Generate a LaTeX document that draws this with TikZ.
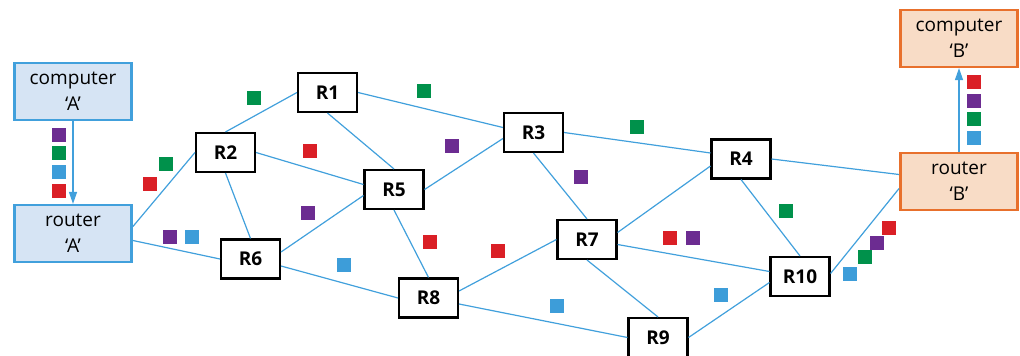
\documentclass[tikz,border=0pt]{standalone}
\usepackage{fontspec}
\setmainfont{Open Sans}
\usetikzlibrary{arrows.meta,calc}
\definecolor{lnblue}{RGB}{65,160,220}
\definecolor{hostAfill}{RGB}{214,228,244}
\definecolor{hostBfill}{RGB}{248,220,198}
\definecolor{hostBdraw}{RGB}{232,112,44}
\definecolor{pgreen}{RGB}{0,145,75}
\definecolor{pred}{RGB}{218,31,38}
\definecolor{ppurple}{RGB}{108,44,145}
\definecolor{pblue}{RGB}{61,157,217}
\newcommand\pkt[4]{\node[pkt,fill=#1] (#4) at (#2,#3) {};}
\begin{document}
\begin{tikzpicture}[x=0.75pt,y=-0.75pt,
  rt/.style={draw=black,line width=1.8pt,fill=white,minimum width=44pt,minimum height=29pt,inner sep=0pt,
    font=\bfseries\fontsize{14.25}{17}\selectfont},
  hostA/.style={draw=lnblue,fill=hostAfill,line width=1.9pt,minimum width=88pt,minimum height=42.5pt,inner sep=0pt,align=center,
    font=\fontsize{14.25}{19.5}\selectfont},
  hostB/.style={hostA,draw=hostBdraw,fill=hostBfill},
  link/.style={draw=lnblue,line width=0.9pt},
  flow/.style={draw=lnblue,line width=1.1pt,-{Triangle[length=9pt,width=6pt]}},
  pkt/.style={draw=none,minimum size=10.5pt,inner sep=0pt}]
\useasboundingbox (0,0) rectangle (1020,356);
% hosts
\node[hostA] (compA) at (73,91.5) {computer\\‘A’};
\node[hostA] (routA) at (73,233.5) {router\\‘A’};
\node[hostB] (compB) at (959,38.5) {computer\\‘B’};
\node[hostB] (routB) at (959,181.5) {router\\‘B’};
% routers
\node[rt] (R1) at (327.5,92.5) {R1};
\node[rt] (R2) at (225.5,152.5) {R2};
\node[rt] (R3) at (533.5,132.5) {R3};
\node[rt] (R4) at (741,159) {R4};
\node[rt] (R5) at (394,189.5) {R5};
\node[rt] (R6) at (250.5,259) {R6};
\node[rt] (R7) at (587,239.5) {R7};
\node[rt] (R8) at (428.5,298) {R8};
\node[rt] (R9) at (658,337.5) {R9};
\node[rt] (R10) at (800,276.5) {R10};
% links
\begin{scope}[on background layer/.style={}]
\draw[link] ($(routA.east)+(0,-7)$) -- (R2.west);
\draw[link] ($(routA.east)+(0,7)$) -- (R6.west);
\draw[link] (R2.north) -- (R1.west);
\draw[link] (R2.east) -- ($(R5.west)+(0,-5)$);
\draw[link] (R2.south) -- (R6.north);
\draw[link] (R1.south) -- (R5.north);
\draw[link] (R1.east) -- ($(R3.west)+(0,-5)$);
\draw[link] (R5.east) -- ($(R3.west)+(0,6)$);
\draw[link] ($(R5.west)+(0,6)$) -- ($(R6.east)+(0,-7)$);
\draw[link] (R5.south) -- (R8.north);
\draw[link] ($(R6.east)+(0,7)$) -- (R8.west);
\draw[link] (R3.south) -- (R7.north);
\draw[link] (R3.east) -- ($(R4.west)+(0,-6)$);
\draw[link] ($(R7.east)+(0,-7)$) -- ($(R4.west)+(0,7)$);
\draw[link] (R4.east) -- ($(routB.west)+(0,-7)$);
\draw[link] (R4.south) -- (R10.north);
\draw[link] ($(R7.east)+(0,5)$) -- ($(R10.west)+(0,-5)$);
\draw[link] (R7.south) -- (R9.north);
\draw[link] ($(R8.east)+(0,-7)$) -- (R7.west);
\draw[link] ($(R8.east)+(0,6)$) -- (R9.west);
\draw[link] (R9.east) -- ($(R10.west)+(0,6)$);
\draw[link] ($(R10.east)+(0,-3)$) -- ($(routB.west)+(0,7)$);
\end{scope}
% host flows
\draw[flow] (compA.south) -- (routA.north);
\draw[flow] (routB.north) -- (compB.south);
% packets
\pkt{ppurple}{59}{135}{a1}
\pkt{pgreen}{59}{153}{a2}
\pkt{pblue}{59}{172}{a3}
\pkt{pred}{59}{191}{a4}
\pkt{pgreen}{254}{98}{p1}
\pkt{pgreen}{166}{164}{p2}
\pkt{pred}{150}{184}{p3}
\pkt{ppurple}{170}{237}{p4}
\pkt{pblue}{192}{237}{p5}
\pkt{pgreen}{424}{91}{p6}
\pkt{pred}{310}{151}{p7}
\pkt{ppurple}{452}{146}{p8}
\pkt{ppurple}{581}{177}{p9}
\pkt{ppurple}{308}{213}{p10}
\pkt{pblue}{344}{265}{p11}
\pkt{pgreen}{637}{127}{p12}
\pkt{pred}{430}{242}{p13}
\pkt{pred}{498}{251}{p14}
\pkt{pred}{670}{238}{p15}
\pkt{ppurple}{693}{238}{p16}
\pkt{pgreen}{786}{211}{p17}
\pkt{pblue}{557}{306}{p18}
\pkt{pblue}{721}{295}{p19}
\pkt{pred}{889}{228}{d1}
\pkt{ppurple}{877}{243}{d2}
\pkt{pgreen}{865}{257}{d3}
\pkt{pblue}{850}{274}{d4}
\pkt{pred}{974}{82}{b1}
\pkt{ppurple}{974}{101}{b2}
\pkt{pgreen}{974}{119}{b3}
\pkt{pblue}{974}{138}{b4}
\end{tikzpicture}
\end{document}
